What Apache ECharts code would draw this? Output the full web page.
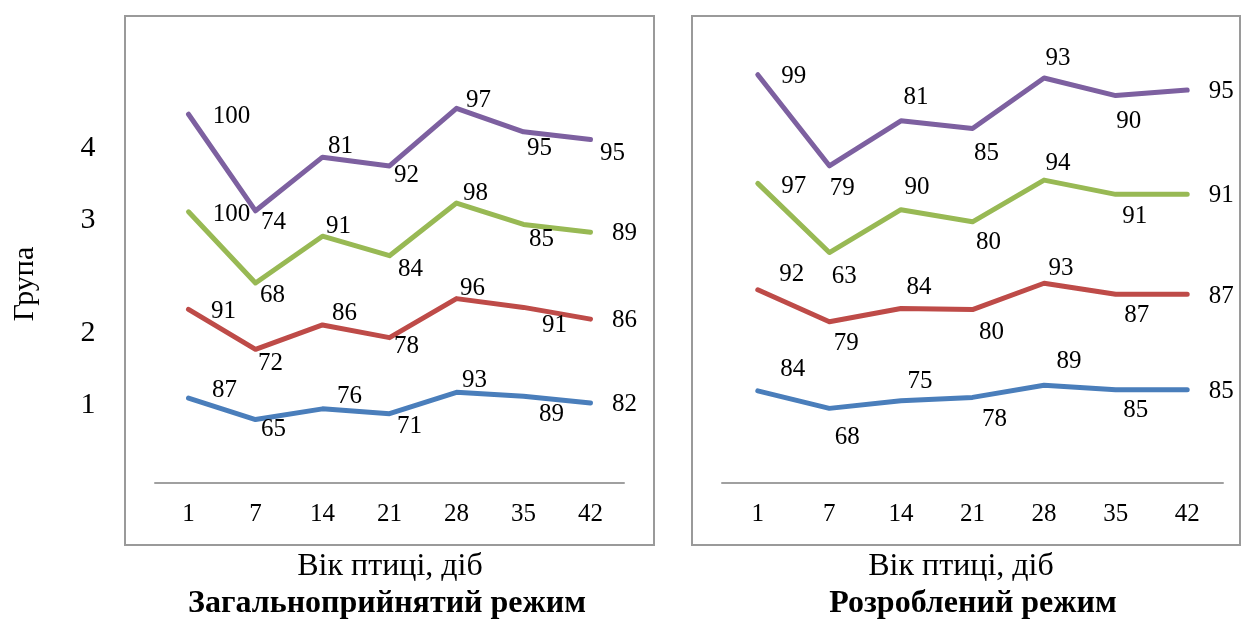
<!DOCTYPE html>
<html>
<head>
<meta charset="utf-8">
<script src="https://cdn.jsdelivr.net/npm/echarts@6/dist/echarts.min.js"></script>
<style>
  html, body { margin: 0; padding: 0; background: #fff; }
  #chart { width: 1241px; height: 619px; }
</style>
</head>
<body>
<div id="chart"></div>
<script>
// Age of the birds, days
const days = ['1', '7', '14', '21', '28', '35', '42'];
const groupLabels = ['1', '2', '3', '4'];

// Standard regime, groups 1..4
const standardG1 = [87, 65, 76, 71, 93, 89, 82];
const standardG2 = [91, 72, 86, 78, 96, 91, 86];
const standardG3 = [100, 68, 91, 84, 98, 85, 89];
const standardG4 = [100, 74, 81, 92, 97, 95, 95];

// Developed regime, groups 1..4
const developedG1 = [84, 68, 75, 78, 89, 85, 85];
const developedG2 = [92, 79, 84, 80, 93, 87, 87];
const developedG3 = [97, 63, 90, 80, 94, 91, 91];
const developedG4 = [99, 79, 81, 85, 93, 90, 95];

// Label placement (pixel offset from each point)
const standardOffsets = [
  [[36, -8], [18, 10], [27, -12], [20, 13], [18, -12], [28, 18], [34, 1]],
  [[35, 2], [15, 14], [22, -12], [17, 9], [16, -10], [31, 18], [34, 1]],
  [[43, 3], [17, 12], [16, -10], [21, 14], [19, -10], [18, 15], [34, 1]],
  [[43, 2], [18, 12], [18, -11], [17, 9], [22, -8], [16, 17], [22, 14]]
];
const developedOffsets = [
  [[35, -21], [18, 29], [19, -19], [22, 22], [25, -24], [20, 21], [34, 2]],
  [[34, -15], [17, 22], [18, -21], [19, 23], [17, -15], [21, 21], [34, 2]],
  [[36, 3], [15, 24], [16, -22], [16, 21], [14, -17], [19, 22], [34, 1]],
  [[36, 2], [13, 23], [15, -23], [14, 25], [14, -20], [13, 26], [34, 1]]
];

const colors = ['#4A7EBB', '#BE4B48', '#98B954', '#7D60A0'];
const serif = '"Liberation Serif", "Times New Roman", serif';

function makeSeries(values, offsets, idx, axisIndex, stackName) {
  return {
    type: 'line',
    xAxisIndex: axisIndex,
    yAxisIndex: axisIndex,
    stack: stackName,
    symbol: 'circle',
    symbolSize: 0,
    showSymbol: true,
    animation: false,
    lineStyle: { color: colors[idx], width: 5, cap: 'round', join: 'round' },
    itemStyle: { color: colors[idx] },
    label: {
      show: true,
      position: 'inside',
      fontFamily: serif,
      fontSize: 25,
      color: '#000'
    },
    data: values.map((v, i) => ({ value: v, label: { offset: offsets[i] } }))
  };
}

const standard = [standardG1, standardG2, standardG3, standardG4];
const developed = [developedG1, developedG2, developedG3, developedG4];

const series = [];
standard.forEach((vals, i) => series.push(makeSeries(vals, standardOffsets[i], i, 0, 'std')));
developed.forEach((vals, i) => series.push(makeSeries(vals, developedOffsets[i], i, 1, 'dev')));

function xAxis(gridIndex) {
  return {
    type: 'category',
    gridIndex: gridIndex,
    data: days,
    boundaryGap: true,
    axisLine: { show: true, lineStyle: { color: '#a0a0a0', width: 2 } },
    axisTick: { show: false },
    axisLabel: { fontFamily: serif, fontSize: 25, color: '#000', margin: 19 },
    splitLine: { show: false }
  };
}
function yAxis(gridIndex, max) {
  return {
    type: 'value',
    gridIndex: gridIndex,
    min: 0,
    max: max,
    show: false,
    splitLine: { show: false }
  };
}

// Group numbers beside the left panel
const groupY = [405, 333, 220, 148];
const groupText = groupLabels.map((t, i) => ({
  type: 'text',
  x: 88, y: groupY[i],
  style: { text: t, font: '30px ' + serif, fill: '#000', align: 'center', verticalAlign: 'middle' }
}));

const option = {
  backgroundColor: '#fff',
  animation: false,
  grid: [
    { left: 155, top: 44, width: 469, height: 439 },
    { left: 722, top: 44, width: 501, height: 439 }
  ],
  xAxis: [xAxis(0), xAxis(1)],
  yAxis: [yAxis(0, 450), yAxis(1, 400)],
  series: series,
  graphic: [
    { type: 'rect', shape: { x: 125, y: 16, width: 529, height: 529 },
      style: { fill: 'none', stroke: '#9a9a9a', lineWidth: 2 }, z: -1 },
    { type: 'rect', shape: { x: 692, y: 16, width: 548, height: 529 },
      style: { fill: 'none', stroke: '#9a9a9a', lineWidth: 2 }, z: -1 },
    { type: 'text', x: 25, y: 284, rotation: Math.PI / 2,
      style: { text: 'Група', font: '30px ' + serif, fill: '#000', align: 'center', verticalAlign: 'middle' } },
    { type: 'text', x: 390, y: 567,
      style: { text: 'Вік птиці, діб', font: '32px ' + serif, fill: '#000', align: 'center', verticalAlign: 'middle' } },
    { type: 'text', x: 387, y: 604,
      style: { text: 'Загальноприйнятий режим', font: 'bold 32px ' + serif, fill: '#000', align: 'center', verticalAlign: 'middle' } },
    { type: 'text', x: 961, y: 567,
      style: { text: 'Вік птиці, діб', font: '32px ' + serif, fill: '#000', align: 'center', verticalAlign: 'middle' } },
    { type: 'text', x: 973, y: 604,
      style: { text: 'Розроблений режим', font: 'bold 32px ' + serif, fill: '#000', align: 'center', verticalAlign: 'middle' } }
  ].concat(groupText)
};

const chart = echarts.init(document.getElementById('chart'), null, { renderer: 'canvas' });
chart.setOption(option);
</script>
</body>
</html>
